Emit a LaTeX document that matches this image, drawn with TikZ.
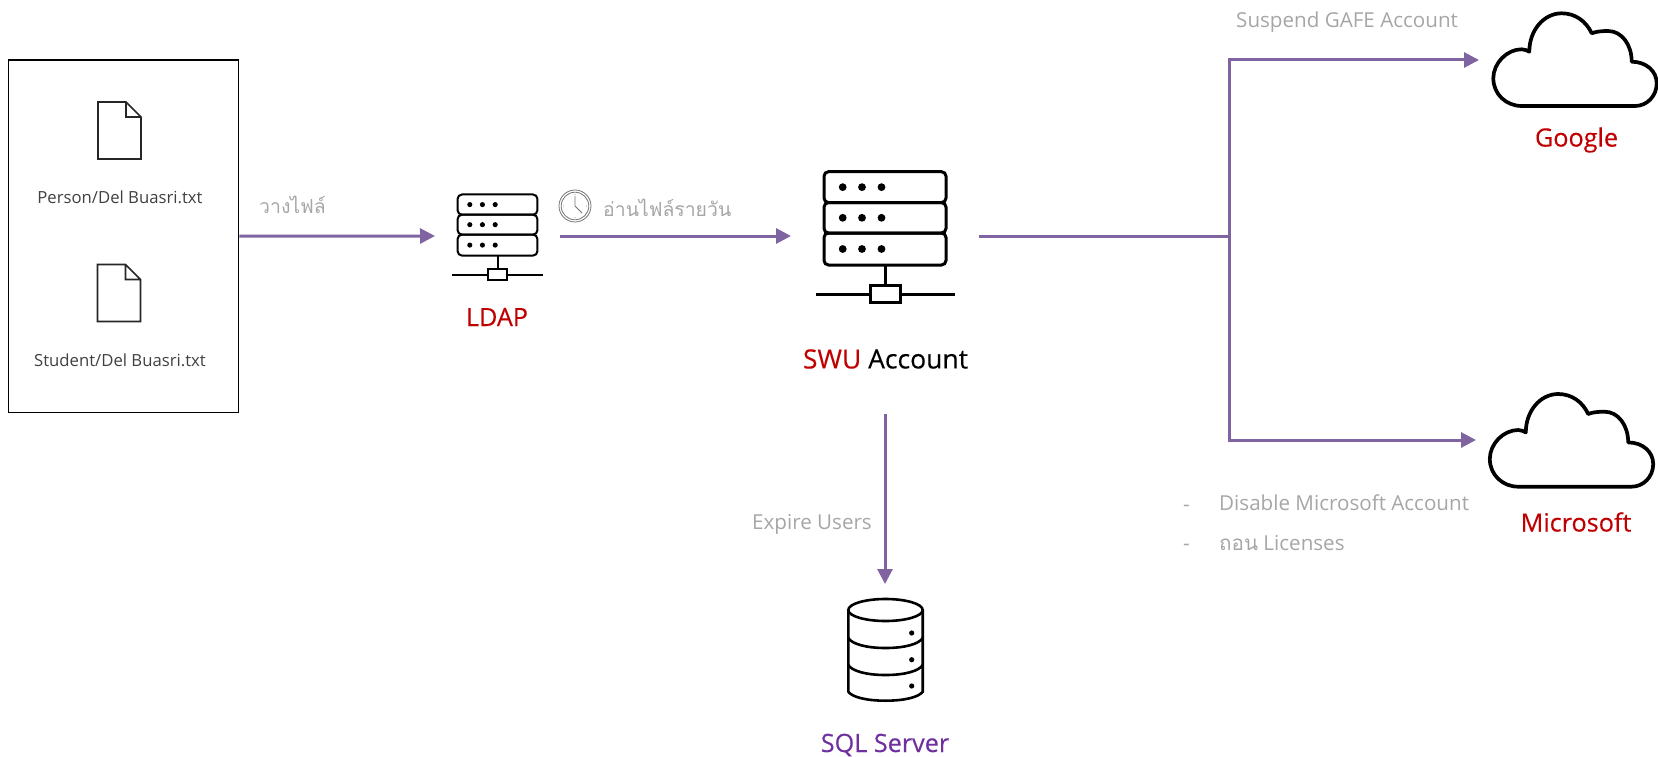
\documentclass[tikz,border=0pt]{standalone}
\usepackage{fontspec}
\setmainfont{Open Sans}
\newfontfamily\thaifont[Script=Thai]{Loma}
\newfontfamily\namefont[FakeBold=0.25]{Open Sans}
\definecolor{flowpurple}{HTML}{8064A2}
\definecolor{labelgrey}{HTML}{A6A6A6}
\definecolor{filetext}{HTML}{404040}
\definecolor{namered}{HTML}{C00000}
\definecolor{namepurple}{HTML}{7030A0}
\usetikzlibrary{arrows.meta}
\tikzset{
  flow/.style={draw=flowpurple,line width=3pt,-{Triangle[length=15pt,width=15pt]}},
  flowplain/.style={draw=flowpurple,line width=3pt},
  hook/.style={inner sep=0pt,outer sep=0pt},
  greylabel/.style={font=\fontsize{20.6}{24}\selectfont,text=labelgrey,inner sep=0pt},
  thailabel/.style={font=\fontsize{19.4}{24}\thaifont\selectfont,text=labelgrey,inner sep=0pt},
  filelabel/.style={font=\fontsize{16.7}{20}\selectfont,text=filetext,inner sep=0pt},
  namelabel/.style={font=\fontsize{25.2}{30}\namefont\selectfont,inner sep=0pt},
  servericon/.pic={
    \foreach \a/\b in {-46.6/-15.7,-15.7/14.7,14.7/46.7}{
      \draw[rounded corners=4.5pt] (-61,\a) rectangle (61,\b);
      \foreach \x in {-42.3,-23,-3.5}{
        \fill (\x,{(\a+\b)/2}) circle (3.9);
      }
    }
    \draw (0,46.7) -- (0,66.7);
    \draw (-69,75.7) -- (-14.3,75.7) (15,75.7) -- (70,75.7);
    \draw (-14.3,66.7) rectangle (15,83.7);
  },
  fileicon/.pic={
    \draw[line width=1.6pt,draw=black!85,line join=miter] (-21.5,-28.5) -- (6.5,-28.5) -- (21.5,-13.5) -- (21.5,28.5) -- (-21.5,28.5) -- cycle
      (6.5,-28.5) -- (6.5,-13.5) -- (21.5,-13.5);
  },
  cloudicon/.pic={
    \draw[line width=3.7pt,line join=round]
      (49.3,51.7) .. controls (49.3,30) and (64,13.3) .. (81.7,13.3)
      .. controls (95,13.3) and (106,21) .. (111.7,33.3)
      .. controls (116,31.5) and (122,31) .. (128,31)
      .. controls (142,31) and (151.7,45) .. (151.7,61.7)
      .. controls (166,61.7) and (176.7,71) .. (176.7,83.3)
      .. controls (176.7,96) and (167,106) .. (155,106)
      -- (41.7,106)
      .. controls (26,106) and (13.3,94) .. (13.3,78.3)
      .. controls (13.3,63) and (27,49.3) .. (41.7,49.3)
      .. controls (44.5,49.3) and (47,50.5) .. (49.3,51.7) -- cycle;
  },
  dbicon/.pic={
    \draw[line width=2.6pt] (885.5,610) ellipse (37.2 and 11);
    \draw[line width=2.6pt] (848.3,610) -- (848.3,691.7) .. controls (852,697) and (866,700.7) .. (885.5,700.7) .. controls (905,700.7) and (919,697) .. (922.7,691.7) -- (922.7,610);
    \draw[line width=2.6pt] (848.3,638) .. controls (852,644) and (866,648) .. (885.5,648) .. controls (905,648) and (919,644) .. (922.7,638);
    \draw[line width=2.6pt] (848.3,665) .. controls (852,671) and (866,675) .. (885.5,675) .. controls (905,675) and (919,671) .. (922.7,665);
    \foreach \y in {633,659.7,686}{\fill (911.7,\y) circle (2.6);}
  },
  clockicon/.pic={
    \draw[labelgrey!70!black,line width=.8pt] (0,0) circle (16);
    \draw[labelgrey!70!black,line width=.8pt] (0,0) circle (13.8);
    \draw[labelgrey!70!black,line width=.9pt] (0,-10) -- (0,0) -- (7,7);
    \foreach \a in {0,90,180,270}{\fill[labelgrey] (\a:11.5) circle (.6);}
  }
}
\begin{document}
\begin{tikzpicture}[x=1pt,y=-1pt]
\useasboundingbox (0,0) rectangle (1658,757);

\node[draw=black,line width=1.2pt,inner sep=0pt,minimum width=230pt,minimum height=352.5pt] (filebox) at (123.7,236.25) {};
\pic at (119.5,130.5) {fileicon};
\pic at (119,293) {fileicon};
\node[filelabel] (personfile) at (120,197) {Person/Del Buasri.txt};
\node[filelabel] (studentfile) at (120,360) {Student/Del Buasri.txt};

\node[hook,minimum width=125pt,minimum height=20pt] (ldap) at (497.5,236) {};
\node[hook,minimum width=188pt,minimum height=356.5pt] (swu) at (885,236) {};
\node[hook,minimum width=2pt,minimum height=2pt] (google) at (1480,60) {};
\node[hook,minimum width=2pt,minimum height=2pt] (microsoft) at (1477,440) {};
\node[hook,minimum width=2pt,minimum height=2pt] (sql) at (885,585) {};
\coordinate (hub) at (1229,236);
\coordinate (hubtop) at (1229,60);
\coordinate (hubbottom) at (1229,440);

\pic[scale=.655,line width=2pt] at (497.5,225) {servericon};
\pic[line width=3pt] at (885,218.3) {servericon};
\pic at (0,0) {dbicon};
\pic at (1480,0) {cloudicon};
\pic at (1476.5,380.7) {cloudicon};
\pic at (575,206) {clockicon};

\draw[flow] (filebox.east) -- (ldap.west);
\draw[flow] (ldap.east) -- (swu.west);
\draw[flowplain] (swu.east) -- (hub);
\draw[flowplain,line cap=rect] (hubtop) -- (hubbottom);
\draw[flow] (hubtop) -- (google.west);
\draw[flow] (hubbottom) -- (microsoft.west);
\draw[flow] (swu.south) -- (sql.north);

\node[thailabel,anchor=west] (putfile) at (259,205) {วางไฟล์};
\node[thailabel,anchor=west] (readfile) at (603,208) {อ่านไฟล์รายวัน};
\node[greylabel,anchor=west] (suspend) at (1236,22) {Suspend GAFE Account};
\node[greylabel,anchor=west] (expire) at (752,524) {Expire Users};
\node[greylabel,anchor=west] (dashone) at (1183,508) {-};
\node[greylabel,anchor=west] (disable) at (1219,503) {Disable Microsoft Account};
\node[greylabel,anchor=west] (dashtwo) at (1183,547) {-};
\node[greylabel,anchor=west] (licenses) at (1219,543) {{\thaifont ถอน} Licenses};

\node[namelabel,text=namered] (ldaplabel) at (497,317) {LDAP};
\node[namelabel,font=\fontsize{26.5}{30}\namefont\selectfont] (swulabel) at (885.5,359) {\textcolor{namered}{SWU} Account};
\node[namelabel,text=namered] (googlelabel) at (1576.5,140) {Google};
\node[namelabel,text=namered] (mslabel) at (1576,522) {Microsoft};
\node[namelabel,text=namepurple] (sqllabel) at (885,745) {SQL Server};
\end{tikzpicture}
\end{document}
